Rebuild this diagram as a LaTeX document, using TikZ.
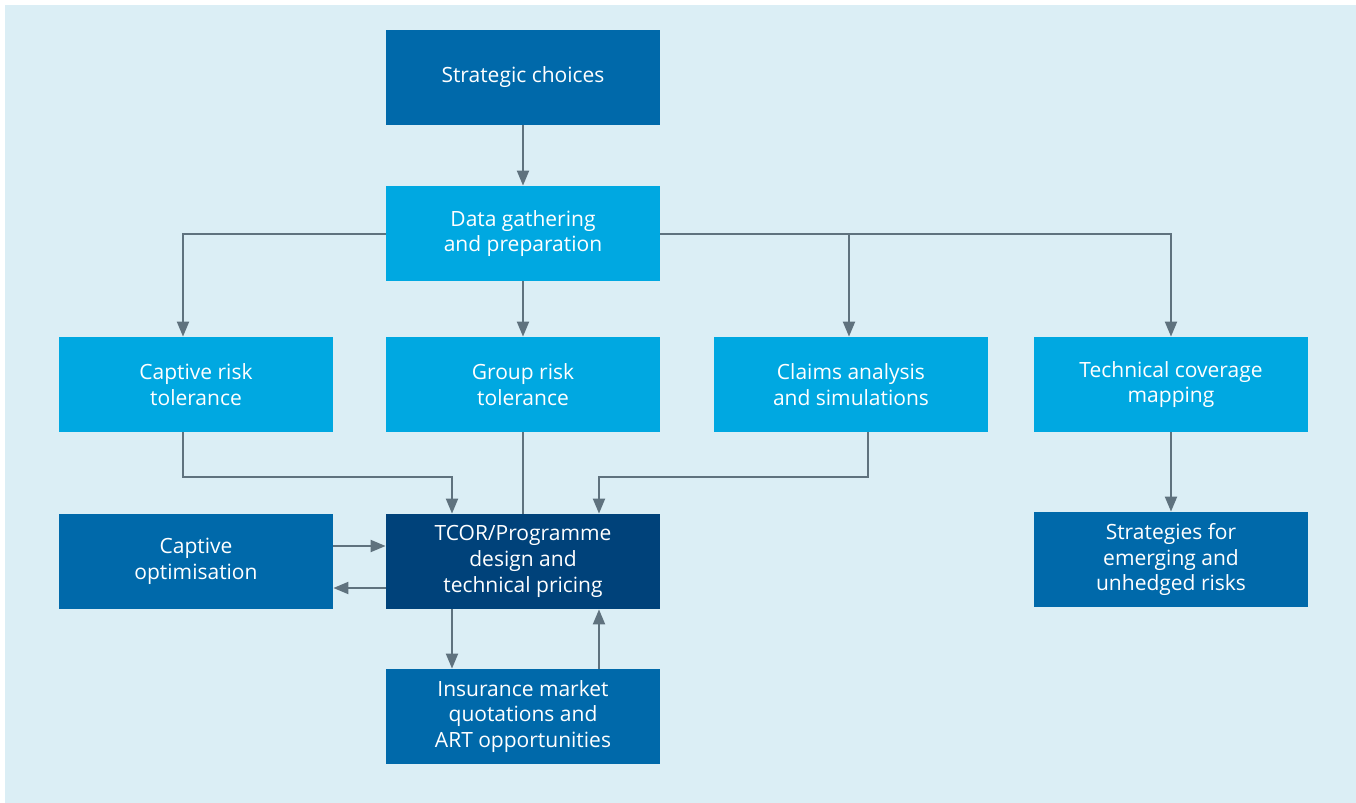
\documentclass[tikz,border=0pt]{standalone}
\usepackage{fontspec}
\setmainfont{Open Sans}
\usetikzlibrary{arrows.meta}
\definecolor{bgblue}{HTML}{DBEEF5}
\definecolor{midblue}{HTML}{0069AA}
\definecolor{lightblue}{HTML}{00A8E1}
\definecolor{darkblue}{HTML}{00427A}
\definecolor{linegrey}{HTML}{5F727E}

\begin{document}
\begin{tikzpicture}[x=0.5pt, y=-0.5pt,
		box/.style = {minimum width=137pt, minimum height=47.5pt, inner sep=0pt, align=center, text=white, font=\fontsize{10.5}{12.8}\selectfont},
		main/.style = {box, fill=midblue},
		light/.style = {box, fill=lightblue},
		core/.style = {box, fill=darkblue},
		arr/.style = {draw=linegrey, line width=1pt, -{Triangle[width=6pt,length=7.5pt]}},
		ln/.style = {draw=linegrey, line width=1pt}]
		\useasboundingbox (0,0) rectangle (1356,803);
		\fill[bgblue] (5,5) rectangle (1356,803);
		\node[main] (strat) at (523,77) {Strategic choices};
		\node[light] (data) at (523,233.5) {Data gathering\\and preparation};
		\node[light] (captol) at (196,384.5) {Captive risk\\tolerance};
		\node[light] (grptol) at (523,384.5) {Group risk\\tolerance};
		\node[light] (claims) at (851,384.5) {Claims analysis\\and simulations};
		\node[light] (techcov) at (1171,384.5) {Technical coverage\\mapping};
		\node[main] (capopt) at (196,561.5) {Captive\\optimisation};
		\node[core] (tcor) at (523,561.5) {TCOR/Programme\\design and\\technical pricing};
		\node[main] (emerg) at (1171,559.5) {Strategies for\\emerging and\\unhedged risks};
		\node[main] (insur) at (523,716.5) {Insurance market\\quotations and\\ART opportunities};
		\draw[arr] (strat) -- (data);
		\draw[arr] (data.west) -| ([xshift=-6.5pt]captol.north);
		\draw[arr] (data) -- (grptol);
		\draw[arr] (data.east) -| ([xshift=-1pt]claims.north);
		\draw[arr] (data.east) -| (techcov.north);
		\draw[arr] ([xshift=-6.5pt]captol.south) -- ++(0,45) -| ([xshift=-35.5pt]tcor.north);
		\draw[ln] (grptol) -- (tcor);
		\draw[arr] ([xshift=8.5pt]claims.south) -- ++(0,45) -| ([xshift=38pt]tcor.north);
		\draw[arr] ([yshift=7.75pt]capopt.east) -- ([yshift=7.75pt]tcor.west);
		\draw[arr] ([yshift=-13.25pt]tcor.west) -- ([yshift=-13.25pt]capopt.east);
		\draw[arr] ([xshift=-35.5pt]tcor.south) -- ([xshift=-35.5pt]insur.north);
		\draw[arr] ([xshift=38pt]insur.north) -- ([xshift=38pt]tcor.south);
		\draw[arr] (techcov) -- (emerg);
	\end{tikzpicture}
\end{document}
